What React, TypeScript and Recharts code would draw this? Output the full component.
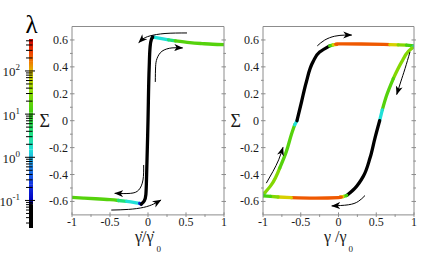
import React from "react";
import { ComposedChart, Line, XAxis, YAxis, ReferenceArea } from "recharts";

type Pt = { x: number; y: number };

const W = 436;
const H = 254;

// ---- axis ticks ----
const gammaTicks = [-1, -0.75, -0.5, -0.25, 0, 0.25, 0.5, 0.75, 1];
const gammaLabels = [-1, -0.5, 0, 0.5, 1];
const sigmaTicks = [-0.6, -0.5, -0.4, -0.3, -0.2, -0.1, 0, 0.1, 0.2, 0.3, 0.4, 0.5, 0.6];
const sigmaLabels = [-0.6, -0.4, -0.2, 0, 0.2, 0.4, 0.6];
const lambdaTicks = [
  0.03, 0.04, 0.05, 0.06, 0.07, 0.08, 0.09,
  0.1, 0.2, 0.3, 0.4, 0.5, 0.6, 0.7, 0.8, 0.9,
  1, 2, 3, 4, 5, 6, 7, 8, 9,
  10, 20, 30, 40, 50, 60, 70, 80, 90,
  100, 200, 300, 400, 500,
];
const lambdaLabels = [0.1, 1, 10, 100];
const lambdaExponents = [-1, 0, 1, 2];

// ---- colour map of lambda (colour bar) ----
const lambdaStops = [0.023, 0.08, 0.1, 0.23, 0.67, 1.5, 4.3, 11, 36, 81, 162, 305, 550];
const lambdaColors = [
  "#000000", "#000000", "#0000c0", "#1030e0", "#2090e8", "#20e0d8", "#20e070",
  "#40d010", "#90d800", "#d8d000", "#f07a00", "#ee3300", "#c80000",
];

// ---- left panel: stress vs. shear rate ----
const rateLowGreen: Pt[] = [
  { x: -1, y: -0.57 }, { x: -0.85, y: -0.575 }, { x: -0.69, y: -0.58 },
  { x: -0.5, y: -0.587 }, { x: -0.39, y: -0.593 },
];
const rateLowTeal: Pt[] = [{ x: -0.39, y: -0.593 }, { x: -0.28, y: -0.6 }];
const rateLowCyan: Pt[] = [
  { x: -0.28, y: -0.6 }, { x: -0.19, y: -0.607 }, { x: -0.11, y: -0.615 },
];
const rateLowBlue: Pt[] = [{ x: -0.11, y: -0.615 }, { x: -0.088, y: -0.62 }];
const rateJump: Pt[] = [
  { x: -0.088, y: -0.62 }, { x: -0.05, y: -0.597 }, { x: -0.028, y: -0.55 },
  { x: -0.018, y: -0.4 }, { x: 0, y: 0 }, { x: 0.016, y: 0.4 },
  { x: 0.028, y: 0.55 }, { x: 0.045, y: 0.605 }, { x: 0.062, y: 0.622 },
];
const rateHighBlue: Pt[] = [{ x: 0.062, y: 0.622 }, { x: 0.085, y: 0.62 }];
const rateHighCyan: Pt[] = [
  { x: 0.085, y: 0.62 }, { x: 0.18, y: 0.61 }, { x: 0.27, y: 0.601 },
];
const rateHighTeal: Pt[] = [{ x: 0.27, y: 0.601 }, { x: 0.36, y: 0.593 }];
const rateHighGreen: Pt[] = [
  { x: 0.36, y: 0.593 }, { x: 0.55, y: 0.58 }, { x: 0.71, y: 0.573 },
  { x: 0.85, y: 0.568 }, { x: 1, y: 0.565 },
];

const rateArrowTop: Pt[] = [
  { x: 0.513, y: 0.652 }, { x: 0.224, y: 0.648 }, { x: 0.026, y: 0.63 },
  { x: -0.066, y: 0.608 }, { x: -0.122, y: 0.58 },
];
const rateArrowInnerUp: Pt[] = [
  { x: 0.096, y: 0.288 }, { x: 0.1, y: 0.4 }, { x: 0.118, y: 0.461 },
  { x: 0.184, y: 0.516 }, { x: 0.316, y: 0.541 }, { x: 0.456, y: 0.541 },
];
const rateArrowInnerDown: Pt[] = [
  { x: -0.057, y: -0.329 }, { x: -0.066, y: -0.441 }, { x: -0.122, y: -0.515 },
  { x: -0.233, y: -0.54 }, { x: -0.438, y: -0.54 },
];
const rateArrowBottom: Pt[] = [
  { x: -0.483, y: -0.664 }, { x: -0.254, y: -0.659 }, { x: -0.057, y: -0.644 },
  { x: 0.075, y: -0.619 }, { x: 0.171, y: -0.59 },
];

// ---- right panel: stress vs. strain loop ----
const strainRiseTeal: Pt[] = [{ x: -1, y: -0.558 }, { x: -0.975, y: -0.535 }];
const strainRiseLime: Pt[] = [
  { x: -0.975, y: -0.535 }, { x: -0.89, y: -0.477 }, { x: -0.779, y: -0.352 },
];
const strainRiseGreen: Pt[] = [
  { x: -0.779, y: -0.352 }, { x: -0.69, y: -0.228 }, { x: -0.625, y: -0.104 },
  { x: -0.58, y: -0.03 },
];
const strainRiseCyan: Pt[] = [{ x: -0.58, y: -0.03 }, { x: -0.55, y: 0 }];
const strainRiseBlack: Pt[] = [
  { x: -0.55, y: 0 }, { x: -0.49, y: 0.139 }, { x: -0.426, y: 0.288 },
  { x: -0.338, y: 0.437 }, { x: -0.25, y: 0.51 }, { x: -0.117, y: 0.556 },
];
const strainTopGreen: Pt[] = [{ x: -0.117, y: 0.556 }, { x: -0.07, y: 0.563 }];
const strainTopYellow: Pt[] = [{ x: -0.07, y: 0.563 }, { x: -0.02, y: 0.568 }];
const strainTopOrange: Pt[] = [
  { x: -0.02, y: 0.568 }, { x: 0, y: 0.571 }, { x: 0.3, y: 0.57 },
  { x: 0.6, y: 0.567 }, { x: 0.68, y: 0.566 },
];
const strainTopYellow2: Pt[] = [{ x: 0.68, y: 0.566 }, { x: 0.79, y: 0.564 }];
const strainTopLime: Pt[] = [{ x: 0.79, y: 0.564 }, { x: 0.9, y: 0.561 }];
const strainTopGreen2: Pt[] = [{ x: 0.9, y: 0.561 }, { x: 1, y: 0.556 }];

const strainFallTeal: Pt[] = [{ x: 1, y: 0.556 }, { x: 0.975, y: 0.54 }];
const strainFallLime: Pt[] = [
  { x: 0.975, y: 0.54 }, { x: 0.925, y: 0.515 }, { x: 0.837, y: 0.437 },
  { x: 0.726, y: 0.313 },
];
const strainFallGreen: Pt[] = [
  { x: 0.726, y: 0.313 }, { x: 0.638, y: 0.189 }, { x: 0.58, y: 0.08 },
];
const strainFallCyan: Pt[] = [{ x: 0.58, y: 0.08 }, { x: 0.545, y: 0 }];
const strainFallBlack: Pt[] = [
  { x: 0.545, y: 0 }, { x: 0.483, y: -0.129 }, { x: 0.417, y: -0.278 },
  { x: 0.328, y: -0.414 }, { x: 0.219, y: -0.501 }, { x: 0.109, y: -0.556 },
];
const strainBotGreen: Pt[] = [{ x: 0.109, y: -0.556 }, { x: 0.06, y: -0.564 }];
const strainBotYellow: Pt[] = [{ x: 0.06, y: -0.564 }, { x: 0.02, y: -0.568 }];
const strainBotOrange: Pt[] = [
  { x: 0.02, y: -0.568 }, { x: 0, y: -0.571 }, { x: -0.3, y: -0.575 },
  { x: -0.625, y: -0.572 },
];
const strainBotYellow2: Pt[] = [{ x: -0.625, y: -0.572 }, { x: -0.8, y: -0.567 }];
const strainBotLime: Pt[] = [{ x: -0.8, y: -0.567 }, { x: -0.9, y: -0.563 }];
const strainBotGreen2: Pt[] = [{ x: -0.9, y: -0.563 }, { x: -1, y: -0.558 }];

const strainArrowTop: Pt[] = [
  { x: -0.281, y: 0.556 }, { x: -0.183, y: 0.599 }, { x: -0.05, y: 0.628 },
  { x: 0.082, y: 0.636 }, { x: 0.175, y: 0.636 },
];
const strainArrowRight: Pt[] = [
  { x: 0.947, y: 0.511 }, { x: 0.881, y: 0.387 }, { x: 0.824, y: 0.288 },
  { x: 0.771, y: 0.194 },
];
const strainArrowBottom: Pt[] = [
  { x: 0.351, y: -0.556 }, { x: 0.262, y: -0.6 }, { x: 0.13, y: -0.625 },
  { x: -0.09, y: -0.633 },
];
const strainArrowLeft: Pt[] = [
  { x: -0.956, y: -0.464 }, { x: -0.868, y: -0.377 }, { x: -0.792, y: -0.29 },
  { x: -0.735, y: -0.198 },
];

type Segment = { pts: Pt[]; lambda: number; curve: "natural" | "monotoneY" };

const rateSegments: Segment[] = [
  { pts: rateLowGreen, lambda: 15, curve: "natural" },
  { pts: rateLowTeal, lambda: 4, curve: "natural" },
  { pts: rateLowCyan, lambda: 1.5, curve: "natural" },
  { pts: rateLowBlue, lambda: 0.2, curve: "natural" },
  { pts: rateHighBlue, lambda: 0.2, curve: "natural" },
  { pts: rateHighCyan, lambda: 1.5, curve: "natural" },
  { pts: rateHighTeal, lambda: 4, curve: "natural" },
  { pts: rateHighGreen, lambda: 15, curve: "natural" },
  { pts: rateJump, lambda: 0.05, curve: "monotoneY" },
];
const rateArrows = [rateArrowTop, rateArrowInnerUp, rateArrowInnerDown, rateArrowBottom];

const strainSegments: Segment[] = [
  { pts: strainRiseTeal, lambda: 3, curve: "natural" },
  { pts: strainRiseLime, lambda: 30, curve: "monotoneY" },
  { pts: strainRiseGreen, lambda: 15, curve: "monotoneY" },
  { pts: strainRiseCyan, lambda: 1.5, curve: "natural" },
  { pts: strainRiseBlack, lambda: 0.05, curve: "monotoneY" },
  { pts: strainTopGreen, lambda: 12, curve: "natural" },
  { pts: strainTopYellow, lambda: 80, curve: "natural" },
  { pts: strainTopOrange, lambda: 220, curve: "natural" },
  { pts: strainTopYellow2, lambda: 80, curve: "natural" },
  { pts: strainTopLime, lambda: 30, curve: "natural" },
  { pts: strainTopGreen2, lambda: 12, curve: "natural" },
  { pts: strainFallTeal, lambda: 3, curve: "natural" },
  { pts: strainFallLime, lambda: 30, curve: "monotoneY" },
  { pts: strainFallGreen, lambda: 15, curve: "monotoneY" },
  { pts: strainFallCyan, lambda: 1.5, curve: "natural" },
  { pts: strainFallBlack, lambda: 0.05, curve: "monotoneY" },
  { pts: strainBotGreen, lambda: 12, curve: "natural" },
  { pts: strainBotYellow, lambda: 80, curve: "natural" },
  { pts: strainBotOrange, lambda: 220, curve: "natural" },
  { pts: strainBotYellow2, lambda: 80, curve: "natural" },
  { pts: strainBotLime, lambda: 30, curve: "natural" },
  { pts: strainBotGreen2, lambda: 12, curve: "natural" },
];
const strainArrows = [strainArrowTop, strainArrowRight, strainArrowBottom, strainArrowLeft];

// ---- styling ----
const frame = "#8c8c8c";
const ink = "#1a1a1a";
const serif = '"Liberation Serif", "DejaVu Serif", serif';
const AX = 30; // room reserved for the outer axes

const hexRgb = (h: string) => [1, 3, 5].map((i) => parseInt(h.slice(i, i + 2), 16));

// interpolate the colour map in log(lambda)
const lambdaColor = (l: number) => {
  const t = Math.log10(l);
  for (let i = 0; i < lambdaStops.length - 1; i++) {
    if (l <= lambdaStops[i + 1] || i === lambdaStops.length - 2) {
      const a = Math.log10(lambdaStops[i]);
      const b = Math.log10(lambdaStops[i + 1]);
      const f = Math.min(1, Math.max(0, (t - a) / (b - a)));
      const c0 = hexRgb(lambdaColors[i]);
      const c1 = hexRgb(lambdaColors[i + 1]);
      const c = c0.map((v, k) => Math.round(v + (c1[k] - v) * f));
      return `rgb(${c[0]},${c[1]},${c[2]})`;
    }
  }
  return "#000";
};

const inList = (v: number, list: number[]) => list.some((l) => Math.abs(l - v) < 1e-6);
const fmt = (v: number) => (Math.abs(v) < 1e-9 ? "0" : String(Number(v.toFixed(2))));
const textStyle = (size: number) => ({ fontFamily: serif, fontSize: size });

const BottomTick = (props: any) => {
  const { x, y, payload } = props;
  const major = inList(payload.value, gammaLabels);
  return (
    <g>
      <line x1={x} x2={x} y1={y} y2={y - (major ? 4.5 : 2.5)} stroke={frame} />
      {major && (
        <text x={x} y={y + 9.5} textAnchor="middle" style={textStyle(12)} fill={ink}>
          {fmt(payload.value)}
        </text>
      )}
    </g>
  );
};

const TopTick = (props: any) => {
  const { x, y, payload } = props;
  const major = inList(payload.value, gammaLabels);
  return <line x1={x} x2={x} y1={y} y2={y + (major ? 4.5 : 2.5)} stroke={frame} />;
};

const LeftTick = (props: any) => {
  const { x, y, payload } = props;
  const major = inList(payload.value, sigmaLabels);
  return (
    <g>
      <line x1={x} x2={x + (major ? 4.5 : 2.5)} y1={y} y2={y} stroke={frame} />
      {major && (
        <text x={x - 2} y={y + 4} textAnchor="end" style={textStyle(12)} fill={ink}>
          {fmt(payload.value)}
        </text>
      )}
    </g>
  );
};

const RightTick = (props: any) => {
  const { x, y, payload } = props;
  const major = inList(payload.value, sigmaLabels);
  return <line x1={x} x2={x - (major ? 4.5 : 2.5)} y1={y} y2={y} stroke={frame} />;
};

const LambdaTick = (props: any) => {
  const { x, y, payload } = props;
  const idx = lambdaLabels.findIndex((l) => Math.abs(l - payload.value) < 1e-9);
  const major = idx >= 0;
  return (
    <g>
      <line x1={x - (major ? 2 : 1)} x2={x + (major ? 8 : 5.5)} y1={y} y2={y} stroke="#000" />
      {major && (
        <text x={x - 7} y={y + 5.5} textAnchor="end" style={textStyle(13)} fill={ink}>
          10
          <tspan style={textStyle(9)} dy={-6}>
            {String(lambdaExponents[idx])}
          </tspan>
        </text>
      )}
    </g>
  );
};

const rateTitle = (props: any) => {
  const vb = props.viewBox;
  return (
    <text x={vb.x + vb.width / 2} y={vb.y + 27} textAnchor="middle" style={textStyle(16)} fill={ink}>
      {"\u03b3\u0307/\u03b3\u0307"}
      <tspan style={textStyle(9)} dx={3} dy={10}>
        0
      </tspan>
    </text>
  );
};

const strainTitle = (props: any) => {
  const vb = props.viewBox;
  return (
    <text x={vb.x + vb.width / 2} y={vb.y + 27} textAnchor="middle" style={textStyle(16)} fill={ink}>
      {"\u03b3 /\u03b3"}
      <tspan style={textStyle(9)} dx={2} dy={10}>
        0
      </tspan>
    </text>
  );
};

const lambdaTitle = (props: any) => {
  const vb = props.viewBox;
  return (
    <text x={vb.x + vb.width + 2.5} y={vb.y - 6} textAnchor="middle" style={textStyle(25)} fill="#000">
      λ
    </text>
  );
};

type PanelProps = {
  id: string;
  plotLeft: number;
  plotRight: number;
  segments: Segment[];
  arrows: Pt[][];
  title: (p: any) => React.ReactNode;
};

// One framed panel (ticks inward on all four sides)
const Panel = ({ id, plotLeft, plotRight, segments, arrows, title }: PanelProps) => (
  <div style={{ position: "absolute", left: 0, top: 0 }}>
    <ComposedChart
      width={W}
      height={H}
      margin={{ top: 26.5 - 1, bottom: 39.1 - AX, left: plotLeft - AX, right: W - plotRight - 1 }}
    >
      <defs>
        <marker
          id={`head-${id}`}
          markerUnits="userSpaceOnUse"
          markerWidth={10}
          markerHeight={8}
          refX={8.5}
          refY={3.5}
          orient="auto"
        >
          <path d="M0,0 L9,3.5 L0,7 L2.5,3.5 Z" fill="#000" />
        </marker>
      </defs>
      <XAxis
        type="number"
        dataKey="x"
        domain={[-1, 1]}
        allowDataOverflow
        ticks={gammaTicks}
        interval={0}
        height={AX}
        tickSize={0}
        tickLine={false}
        axisLine={{ stroke: frame }}
        tick={<BottomTick />}
        label={title}
      />
      <XAxis
        xAxisId="top"
        orientation="top"
        type="number"
        domain={[-1, 1]}
        allowDataOverflow
        ticks={gammaTicks}
        interval={0}
        height={1}
        tickSize={0}
        tickLine={false}
        axisLine={{ stroke: frame }}
        tick={<TopTick />}
      />
      <YAxis
        type="number"
        domain={[-0.7, 0.7]}
        allowDataOverflow
        ticks={sigmaTicks}
        interval={0}
        width={AX}
        tickSize={0}
        tickLine={false}
        axisLine={{ stroke: frame }}
        tick={<LeftTick />}
        label={{ value: "Σ", position: "insideLeft", offset: -2.5, style: textStyle(18), fill: ink }}
      />
      <YAxis
        yAxisId="right"
        orientation="right"
        type="number"
        domain={[-0.7, 0.7]}
        allowDataOverflow
        ticks={sigmaTicks}
        interval={0}
        width={1}
        tickSize={0}
        tickLine={false}
        axisLine={{ stroke: frame }}
        tick={<RightTick />}
      />
      {segments.map((s, i) => (
        <Line
          key={`seg-${i}`}
          data={s.pts}
          dataKey="y"
          type={s.curve}
          stroke={lambdaColor(s.lambda)}
          strokeWidth={3.3}
          strokeLinecap="round"
          dot={false}
          activeDot={false}
          isAnimationActive={false}
        />
      ))}
      {arrows.map((a, i) => (
        <Line
          key={`arrow-${i}`}
          data={a}
          dataKey="y"
          type="natural"
          stroke="#000"
          strokeWidth={1}
          markerEnd={`url(#head-${id})`}
          dot={false}
          activeDot={false}
          isAnimationActive={false}
        />
      ))}
    </ComposedChart>
  </div>
);

// Colour bar of lambda on a log axis
const ColorBar = () => (
  <div style={{ position: "absolute", left: 0, top: 0 }}>
    <ComposedChart width={W} height={H} margin={{ top: 39, right: W - 33, bottom: 26, left: 29 - AX }}>
      <defs>
        {lambdaStops.slice(0, -1).map((_, i) => (
          <linearGradient key={`g-${i}`} id={`cb-${i}`} x1="0" y1="1" x2="0" y2="0">
            <stop offset="0" stopColor={lambdaColors[i]} />
            <stop offset="1" stopColor={lambdaColors[i + 1]} />
          </linearGradient>
        ))}
      </defs>
      <XAxis type="number" dataKey="x" domain={[0, 1]} allowDataOverflow hide />
      {lambdaStops.slice(0, -1).map((lo, i) => (
        <ReferenceArea
          key={`band-${i}`}
          x1={0}
          x2={1}
          y1={lo}
          y2={lambdaStops[i + 1]}
          fill={`url(#cb-${i})`}
          fillOpacity={1}
          stroke="none"
        />
      ))}
      <YAxis
        type="number"
        scale="log"
        domain={[0.023, 550]}
        allowDataOverflow
        ticks={lambdaTicks}
        interval={0}
        width={AX}
        tickSize={0}
        tickLine={false}
        axisLine={false}
        tick={<LambdaTick />}
        label={lambdaTitle}
      />
    </ComposedChart>
  </div>
);

export default function App() {
  return (
    <div style={{ position: "absolute", left: 0, top: 0, width: W, height: H, background: "#fff" }}>
      <ColorBar />
      <Panel id="rate" plotLeft={72} plotRight={224} segments={rateSegments} arrows={rateArrows} title={rateTitle} />
      <Panel id="strain" plotLeft={263} plotRight={414} segments={strainSegments} arrows={strainArrows} title={strainTitle} />
    </div>
  );
}
